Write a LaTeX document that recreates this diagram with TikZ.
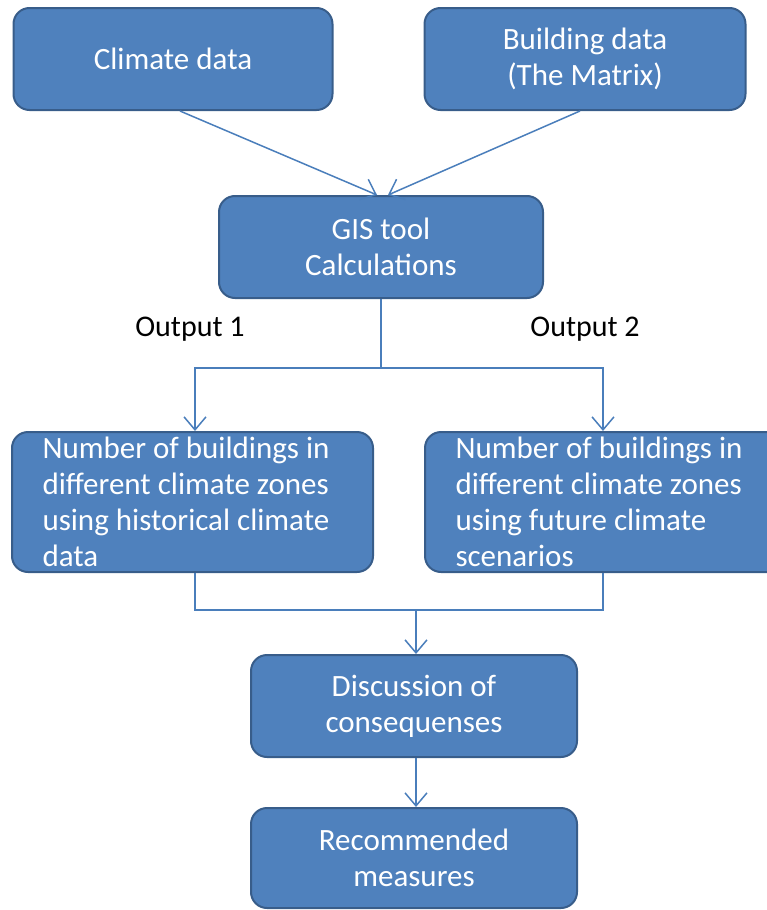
\documentclass[tikz,border=0pt]{standalone}
\usepackage{fontspec}
\setmainfont{Carlito}
\usetikzlibrary{arrows.meta, positioning}
\definecolor{BoxBlue}{HTML}{4F81BD}
\definecolor{BoxEdge}{HTML}{385D8A}
\definecolor{LinkBlue}{HTML}{4A7EBB}

\begin{document}
\begin{tikzpicture}[x=1pt, y=-1pt,
	every node/.style={font=\fontsize{31}{36}\selectfont},
	box/.style={draw=BoxEdge, fill=BoxBlue, line width=2pt, rounded corners=16pt, text=white, align=center, inner sep=0pt},
	line/.style={LinkBlue, line width=1.5pt},
	link/.style={line, -{Straight Barb[length=13pt, width=22pt, line width=1.5pt]}}]
	\useasboundingbox (0,0) rectangle (767,910);
	
	\node[box, minimum width=319pt, minimum height=102pt] (climate) at (173,59) {Climate data};
	\node[box, minimum width=321pt, minimum height=102pt] (building) at (585,59) {Building data\\(The Matrix)};
	
	\node[box, minimum width=324pt, minimum height=102pt] (gis) at (381,247) {GIS tool\\Calculations};
	
	\node[font=\fontsize{30}{36}\selectfont] (out1) at (190,329) {Output 1};
	\node[font=\fontsize{30}{36}\selectfont] (out2) at (585,329) {Output 2};
	
	\node[box, minimum width=361pt, minimum height=140pt, text width=300pt, align=flush left] (hist) at (192.5,502) {Number of buildings in\\different climate zones\\using historical climate\\data};
	\node[box, minimum width=361pt, minimum height=140pt, text width=300pt, align=flush left] (future) at (605.5,502) {Number of buildings in\\different climate zones\\using future climate\\scenarios};
	
	\node[box, minimum width=326pt, minimum height=102pt] (discussion) at (414,706) {Discussion of\\consequenses};
	\node[box, minimum width=326pt, minimum height=100pt] (measures) at (414,858) {Recommended\\measures};
	
	\coordinate (split) at (381,368);
	\coordinate (merge) at (416,610);
	
	% inputs
	\draw[link] ([xshift=7pt]climate.south) -- ([xshift=-4pt]gis.north);
	\draw[link] ([xshift=-5pt]building.south) -- ([xshift=7pt]gis.north);
	
	% outputs
	\draw[line] (gis.south) -- (split);
	\draw[link] (split) -| ([xshift=2.5pt]hist.north);
	\draw[link] (split) -| ([xshift=-2.5pt]future.north);
	
	\draw[line] ([xshift=2.5pt]hist.south) |- (merge) -| ([xshift=-2.5pt]future.south);
	\draw[link] (merge) -- ([xshift=2pt]discussion.north);
	\draw[link] ([xshift=2pt]discussion.south) -- ([xshift=2pt]measures.north);
\end{tikzpicture}
\end{document}
